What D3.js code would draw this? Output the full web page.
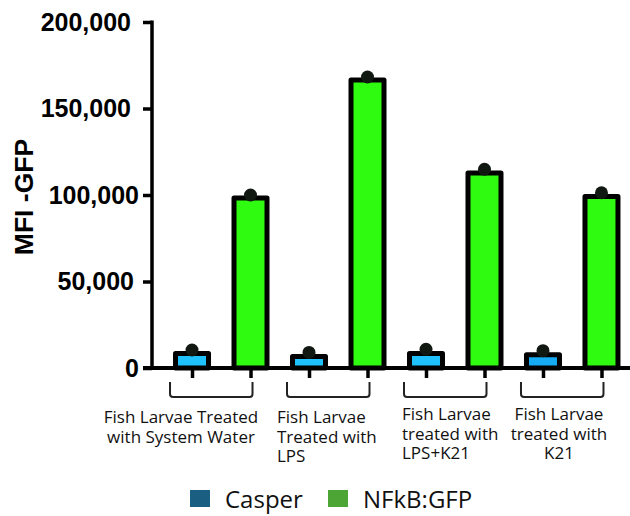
<!DOCTYPE html>
<html>
<head>
<meta charset="utf-8">
<script src="https://cdn.jsdelivr.net/npm/d3@7"></script>
<style>
  html, body { margin: 0; padding: 0; background: #fff; }
  svg { display: block; }
</style>
</head>
<body>
<svg id="chart" width="630" height="516"></svg>
<script>
// Treatment groups (one bracket + label under each pair of bars)
const groups = ["System Water", "LPS", "LPS+K21", "K21"];
const groupLabels = [
  ["Fish Larvae Treated", "with System Water"],
  ["Fish Larvae", "Treated with", "LPS"],
  ["Fish Larvae", "treated with", "LPS+K21"],
  ["Fish Larvae", "treated with", "K21"]
];
const strains = ["Casper", "NFkB:GFP"];

// Mean fluorescence (bar height) and the single measured point per bar
const casperMean  = [8400, 6700, 8400, 7600];
const casperPoint = [10400, 9000, 10800, 10000];
const nfkbMean    = [98300, 166500, 112700, 99100];
const nfkbPoint   = [100000, 168200, 114900, 101300];

const yTicks = [0, 50000, 100000, 150000, 200000];

// ---- styling ----
const casperFill = ["#1ec1fb", "#1ec1fb", "#1ec1fb", "#16aaf3"];
const nfkbFill = "#2ffb10";
const legendColors = ["#1a5f82", "#4ca535"];

const svg = d3.select("#chart");

// one flat list of bars in draw order
const bars = [];
groups.forEach((g, i) => {
  bars.push({ key: g + "|Casper", group: i, strain: 0, mean: casperMean[i], point: casperPoint[i], fill: casperFill[i] });
  bars.push({ key: g + "|NFkB", group: i, strain: 1, mean: nfkbMean[i], point: nfkbPoint[i], fill: nfkbFill });
});

const x = d3.scalePoint()
  .domain(bars.map(d => d.key))
  .range([153, 640.5])
  .padding(0.667);
const barW = 33;

const y = d3.scaleLinear().domain([0, 200000]).range([368, 22]);

// ---- y axis ----
const yAxis = d3.axisLeft(y)
  .tickValues(yTicks)
  .tickSize(9)
  .tickPadding(12)
  .tickFormat(d3.format(","));
const yG = svg.append("g").attr("transform", "translate(152,0)").call(yAxis);
yG.select(".domain").attr("stroke", "#000").attr("stroke-width", 3.5)
  .attr("d", `M0,${y(200000) - 1.5}V${y(0)}`);
yG.selectAll(".tick line").attr("stroke", "#000").attr("stroke-width", 3.5);
const tickShift = { 0: 8, 50000: 3, 100000: 8, 150000: 0, 200000: 0 };
yG.selectAll(".tick text")
  .attr("font-family", "'Liberation Sans', Arial, sans-serif")
  .attr("font-weight", "bold")
  .attr("font-size", 25)
  .attr("fill", "#000")
  .attr("dx", d => tickShift[d]);

// ---- x axis (ticks at bar centres, no labels) ----
const xAxis = d3.axisBottom(x).tickSize(10).tickFormat("");
const xG = svg.append("g").attr("transform", `translate(0,${y(0)})`).call(xAxis);
xG.select(".domain").attr("stroke", "#000").attr("stroke-width", 4)
  .attr("d", "M143,0H640");
xG.selectAll(".tick line").attr("stroke", "#000").attr("stroke-width", 3.5);

// ---- bars ----
svg.append("g").selectAll("rect").data(bars).join("rect")
  .attr("x", d => x(d.key) - barW / 2)
  .attr("width", barW)
  .attr("y", d => y(d.mean))
  .attr("height", d => y(0) - y(d.mean))
  .attr("fill", d => d.fill)
  .attr("stroke", "#000")
  .attr("stroke-width", 5)
  .attr("stroke-linejoin", "round");

// ---- individual points ----
svg.append("g").selectAll("circle").data(bars).join("circle")
  .attr("cx", d => x(d.key))
  .attr("cy", d => y(d.point))
  .attr("r", 6.5)
  .attr("fill", "#111811");

// ---- group brackets ----
const bTop = 382, bBot = 397, r = 3;
svg.append("g").selectAll("path").data(groups).join("path")
  .attr("d", (g, i) => {
    const x0 = x(bars[i * 2].key) - 22;
    const x1 = x(bars[i * 2 + 1].key) + 2;
    return `M${x0},${bTop}V${bBot - r}Q${x0},${bBot} ${x0 + r},${bBot}` +
           `H${x1 - r}Q${x1},${bBot} ${x1},${bBot - r}V${bTop}`;
  })
  .attr("fill", "none")
  .attr("stroke", "#222")
  .attr("stroke-width", 2);

// ---- group labels ----
const labelLayout = [
  { x: 181, y: 423, anchor: "middle" },
  { x: 277, y: 423, anchor: "start" },
  { x: 402, y: 420, anchor: "start" },
  { x: 559, y: 420, anchor: "middle" }
];
const lblG = svg.append("g")
  .attr("font-family", "'Open Sans', 'Noto Sans', sans-serif")
  .attr("font-size", 17)
  .attr("fill", "#111");
groupLabels.forEach((lines, i) => {
  const L = labelLayout[i];
  const t = lblG.append("text").attr("text-anchor", L.anchor);
  lines.forEach((ln, j) => {
    t.append("tspan").attr("x", L.x).attr("y", L.y + j * 19.5).text(ln);
  });
});

// ---- y axis title ----
svg.append("text")
  .attr("transform", "translate(33,197) rotate(-90)")
  .attr("text-anchor", "middle")
  .attr("font-family", "'Liberation Sans', Arial, sans-serif")
  .attr("font-weight", "bold")
  .attr("font-size", 26.5)
  .attr("fill", "#000")
  .text("MFI -GFP");

// ---- legend ----
const legendX = [190, 328];
const leg = svg.append("g");
strains.forEach((s, i) => {
  leg.append("rect")
    .attr("x", legendX[i]).attr("y", 490)
    .attr("width", 20).attr("height", 17)
    .attr("fill", legendColors[i]);
  leg.append("text")
    .attr("x", legendX[i] + 35).attr("y", 508)
    .attr("font-family", "'Open Sans', 'Noto Sans', sans-serif")
    .attr("font-size", 24)
    .attr("fill", "#111")
    .text(s);
});
</script>
</body>
</html>
